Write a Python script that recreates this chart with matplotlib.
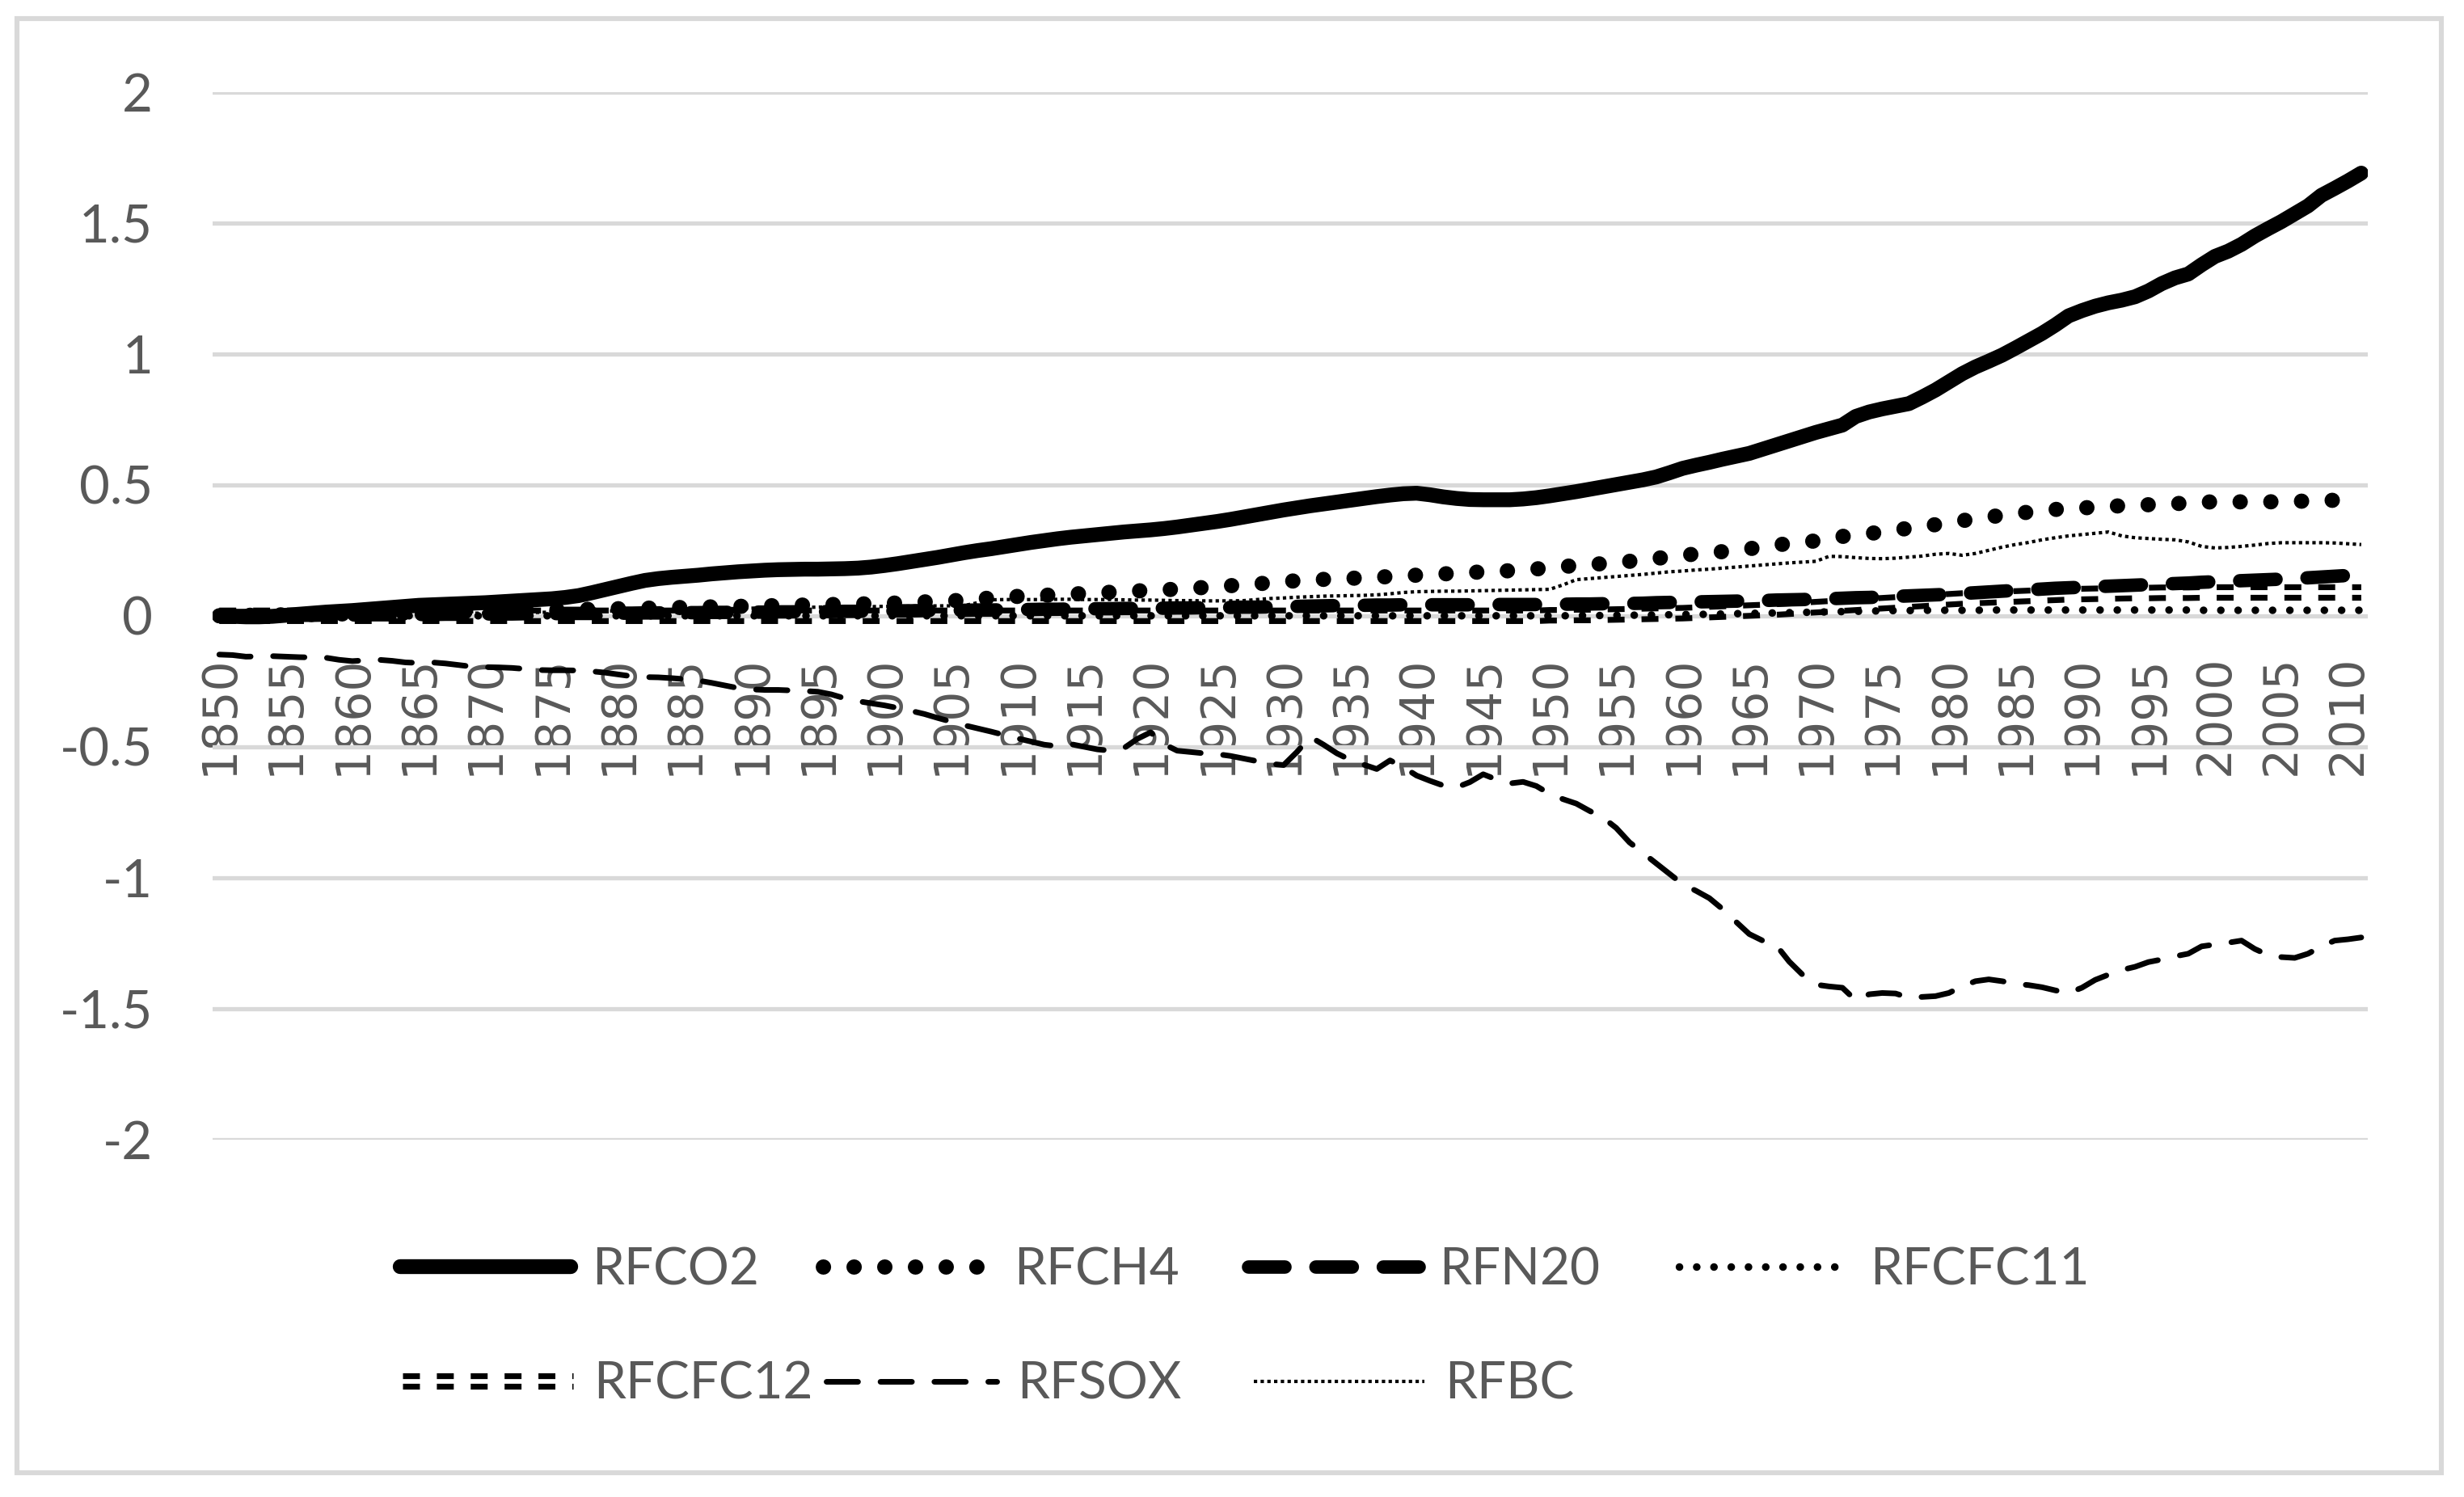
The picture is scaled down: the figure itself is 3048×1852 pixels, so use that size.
import matplotlib
matplotlib.use("Agg")
import matplotlib.pyplot as plt
import matplotlib.patheffects as pe
from matplotlib.lines import Line2D
from matplotlib.patches import Rectangle

years = list(range(1850, 2012))
tick_years = list(range(1850, 2011, 5))
y_ticks = [2, 1.5, 1, 0.5, 0, -0.5, -1, -1.5, -2]
y_labels = ["2", "1.5", "1", "0.5", "0", "-0.5", "-1", "-1.5", "-2"]

rf_co2 = [
    0.000, -0.002, -0.004, -0.004, -0.002, 0.002, 0.006, 0.010, 0.014, 0.017,
    0.020, 0.024, 0.028, 0.032, 0.036, 0.040, 0.042, 0.044, 0.046, 0.048,
    0.050, 0.053, 0.056, 0.059, 0.062, 0.065, 0.070, 0.077, 0.088, 0.100,
    0.112, 0.124, 0.135, 0.142, 0.147, 0.151, 0.155, 0.160, 0.164, 0.168,
    0.171, 0.174, 0.176, 0.177, 0.178, 0.178, 0.179, 0.180, 0.182, 0.186,
    0.192, 0.199, 0.207, 0.215, 0.223, 0.232, 0.241, 0.249, 0.256, 0.264,
    0.272, 0.280, 0.287, 0.294, 0.300, 0.305, 0.310, 0.315, 0.320, 0.324,
    0.328, 0.333, 0.339, 0.346, 0.353, 0.360, 0.368, 0.377, 0.386, 0.395,
    0.404, 0.412, 0.420, 0.427, 0.434, 0.441, 0.448, 0.455, 0.461, 0.466,
    0.468, 0.462, 0.454, 0.448, 0.444, 0.443, 0.443, 0.443, 0.446, 0.451,
    0.458, 0.466, 0.474, 0.483, 0.492, 0.501, 0.510, 0.519, 0.530, 0.546,
    0.563, 0.575, 0.586, 0.598, 0.609, 0.620, 0.636, 0.652, 0.668, 0.684,
    0.700, 0.714, 0.728, 0.761, 0.778, 0.790, 0.800, 0.810, 0.835, 0.862,
    0.893, 0.924, 0.950, 0.972, 0.995, 1.022, 1.050, 1.078, 1.110, 1.145,
    1.165, 1.182, 1.195, 1.205, 1.218, 1.240, 1.268, 1.290, 1.305, 1.340,
    1.372, 1.392, 1.418, 1.450, 1.478, 1.505, 1.535, 1.565, 1.605, 1.632,
    1.660, 1.690,
]

rf_ch4 = [
    0.000, 0.001, 0.002, 0.002, 0.003, 0.004, 0.005, 0.005, 0.006, 0.007,
    0.008, 0.009, 0.010, 0.010, 0.011, 0.012, 0.013, 0.014, 0.015, 0.016,
    0.017, 0.018, 0.019, 0.020, 0.021, 0.022, 0.023, 0.024, 0.025, 0.026,
    0.027, 0.028, 0.029, 0.030, 0.031, 0.032, 0.033, 0.034, 0.035, 0.036,
    0.037, 0.038, 0.039, 0.040, 0.041, 0.042, 0.043, 0.044, 0.045, 0.046,
    0.047, 0.049, 0.051, 0.053, 0.055, 0.057, 0.060, 0.064, 0.068, 0.072,
    0.074, 0.076, 0.078, 0.081, 0.083, 0.085, 0.087, 0.090, 0.093, 0.095,
    0.097, 0.099, 0.102, 0.105, 0.108, 0.111, 0.115, 0.118, 0.122, 0.126,
    0.130, 0.134, 0.137, 0.139, 0.141, 0.143, 0.145, 0.147, 0.150, 0.153,
    0.155, 0.157, 0.160, 0.162, 0.165, 0.168, 0.170, 0.172, 0.175, 0.179,
    0.183, 0.188, 0.192, 0.196, 0.199, 0.203, 0.208, 0.213, 0.219, 0.225,
    0.231, 0.236, 0.241, 0.245, 0.250, 0.256, 0.263, 0.270, 0.276, 0.281,
    0.286, 0.295, 0.303, 0.309, 0.314, 0.320, 0.328, 0.334, 0.341, 0.348,
    0.355, 0.363, 0.371, 0.378, 0.383, 0.389, 0.396, 0.401, 0.406, 0.409,
    0.412, 0.414, 0.418, 0.420, 0.422, 0.424, 0.426, 0.428, 0.431, 0.434,
    0.435, 0.435, 0.435, 0.435, 0.435, 0.436, 0.437, 0.438, 0.440, 0.441,
    0.443, 0.444,
]

rf_n2o = [
    0.000, 0.000, 0.001, 0.001, 0.001, 0.002, 0.002, 0.002, 0.003, 0.003,
    0.003, 0.004, 0.004, 0.004, 0.005, 0.005, 0.005, 0.006, 0.006, 0.006,
    0.007, 0.007, 0.007, 0.008, 0.008, 0.008, 0.009, 0.009, 0.009, 0.010,
    0.010, 0.010, 0.011, 0.011, 0.012, 0.012, 0.012, 0.013, 0.013, 0.014,
    0.014, 0.014, 0.015, 0.015, 0.016, 0.016, 0.016, 0.017, 0.017, 0.018,
    0.018, 0.019, 0.019, 0.020, 0.020, 0.021, 0.021, 0.022, 0.022, 0.023,
    0.024, 0.024, 0.025, 0.025, 0.026, 0.026, 0.027, 0.027, 0.028, 0.028,
    0.029, 0.029, 0.030, 0.030, 0.031, 0.031, 0.032, 0.033, 0.033, 0.034,
    0.035, 0.036, 0.037, 0.038, 0.039, 0.040, 0.040, 0.041, 0.041, 0.042,
    0.042, 0.042, 0.042, 0.042, 0.042, 0.042, 0.043, 0.043, 0.043, 0.043,
    0.044, 0.044, 0.045, 0.045, 0.046, 0.047, 0.047, 0.048, 0.050, 0.051,
    0.052, 0.053, 0.054, 0.055, 0.056, 0.057, 0.058, 0.060, 0.061, 0.062,
    0.064, 0.065, 0.067, 0.069, 0.070, 0.072, 0.074, 0.076, 0.078, 0.080,
    0.082, 0.085, 0.088, 0.091, 0.094, 0.097, 0.099, 0.102, 0.105, 0.107,
    0.109, 0.111, 0.113, 0.115, 0.117, 0.119, 0.121, 0.123, 0.125, 0.128,
    0.130, 0.132, 0.134, 0.136, 0.138, 0.140, 0.142, 0.145, 0.148, 0.151,
    0.154, 0.157,
]

rf_cfc11 = [
    0.000, 0.000, 0.000, 0.000, 0.000, 0.000, 0.000, 0.000, 0.000, 0.000,
    0.000, 0.000, 0.000, 0.000, 0.000, 0.000, 0.000, 0.000, 0.000, 0.000,
    0.000, 0.000, 0.000, 0.000, 0.000, 0.000, 0.000, 0.000, 0.000, 0.000,
    0.000, 0.000, 0.000, 0.000, 0.000, 0.000, 0.000, 0.000, 0.000, 0.000,
    0.000, 0.000, 0.000, 0.000, 0.000, 0.000, 0.000, 0.000, 0.000, 0.000,
    0.000, 0.000, 0.000, 0.000, 0.000, 0.000, 0.000, 0.000, 0.000, 0.000,
    0.000, 0.000, 0.000, 0.000, 0.000, 0.000, 0.000, 0.000, 0.000, 0.000,
    0.000, 0.000, 0.000, 0.000, 0.000, 0.000, 0.000, 0.000, 0.000, 0.000,
    0.000, 0.000, 0.000, 0.000, 0.000, 0.000, 0.000, 0.000, 0.000, 0.000,
    0.000, 0.000, 0.000, 0.000, 0.000, 0.000, 0.000, 0.000, 0.000, 0.000,
    0.000, 0.000, 0.001, 0.001, 0.001, 0.002, 0.002, 0.003, 0.003, 0.004,
    0.005, 0.005, 0.006, 0.007, 0.008, 0.009, 0.010, 0.011, 0.012, 0.013,
    0.014, 0.015, 0.016, 0.017, 0.018, 0.019, 0.020, 0.020, 0.021, 0.021,
    0.021, 0.021, 0.021, 0.022, 0.022, 0.022, 0.022, 0.022, 0.022, 0.022,
    0.022, 0.022, 0.022, 0.022, 0.022, 0.022, 0.022, 0.022, 0.022, 0.021,
    0.021, 0.021, 0.021, 0.021, 0.021, 0.021, 0.021, 0.021, 0.021, 0.021,
    0.021, 0.021,
]

rf_cfc12 = [
    0.000, 0.000, 0.000, 0.000, 0.000, 0.000, 0.000, 0.000, 0.000, 0.000,
    0.000, 0.000, 0.000, 0.000, 0.000, 0.000, 0.000, 0.000, 0.000, 0.000,
    0.000, 0.000, 0.000, 0.000, 0.000, 0.000, 0.000, 0.000, 0.000, 0.000,
    0.000, 0.000, 0.000, 0.000, 0.000, 0.000, 0.000, 0.000, 0.000, 0.000,
    0.000, 0.000, 0.000, 0.000, 0.000, 0.000, 0.000, 0.000, 0.000, 0.000,
    0.000, 0.000, 0.000, 0.000, 0.000, 0.000, 0.000, 0.000, 0.000, 0.000,
    0.000, 0.000, 0.000, 0.000, 0.000, 0.000, 0.000, 0.000, 0.000, 0.000,
    0.000, 0.000, 0.000, 0.000, 0.000, 0.000, 0.000, 0.000, 0.000, 0.000,
    0.000, 0.000, 0.000, 0.000, 0.000, 0.000, 0.000, 0.000, 0.000, 0.000,
    0.000, 0.000, 0.000, 0.000, 0.000, 0.000, 0.000, 0.000, 0.000, 0.000,
    0.002, 0.002, 0.003, 0.003, 0.004, 0.005, 0.006, 0.007, 0.008, 0.009,
    0.010, 0.012, 0.014, 0.016, 0.018, 0.020, 0.022, 0.024, 0.027, 0.030,
    0.033, 0.036, 0.039, 0.042, 0.045, 0.048, 0.051, 0.054, 0.057, 0.060,
    0.063, 0.066, 0.068, 0.070, 0.072, 0.074, 0.076, 0.078, 0.080, 0.082,
    0.083, 0.084, 0.085, 0.086, 0.087, 0.087, 0.088, 0.088, 0.088, 0.089,
    0.089, 0.089, 0.089, 0.089, 0.089, 0.089, 0.089, 0.089, 0.089, 0.089,
    0.089, 0.089,
]

rf_sox = [
    -0.148, -0.150, -0.156, -0.155, -0.154, -0.156, -0.158, -0.159, -0.160, -0.168,
    -0.173, -0.170, -0.168, -0.172, -0.178, -0.180, -0.178, -0.182, -0.188, -0.194,
    -0.196, -0.197, -0.199, -0.203, -0.207, -0.208, -0.208, -0.209, -0.212, -0.217,
    -0.224, -0.231, -0.234, -0.235, -0.238, -0.242, -0.247, -0.256, -0.266, -0.276,
    -0.281, -0.283, -0.283, -0.285, -0.287, -0.290, -0.300, -0.315, -0.326, -0.334,
    -0.342, -0.352, -0.363, -0.375, -0.390, -0.404, -0.418, -0.430, -0.442, -0.455,
    -0.468, -0.480, -0.492, -0.498, -0.490, -0.500, -0.510, -0.515, -0.505, -0.470,
    -0.445, -0.490, -0.515, -0.520, -0.525, -0.528, -0.535, -0.545, -0.555, -0.565,
    -0.570, -0.520, -0.462, -0.492, -0.525, -0.550, -0.568, -0.585, -0.552, -0.578,
    -0.610, -0.630, -0.648, -0.655, -0.635, -0.605, -0.625, -0.640, -0.634, -0.650,
    -0.680, -0.700, -0.717, -0.745, -0.770, -0.810, -0.865, -0.905, -0.945, -0.985,
    -1.025, -1.050, -1.078, -1.120, -1.168, -1.215, -1.240, -1.256, -1.320, -1.370,
    -1.408, -1.415, -1.420, -1.468, -1.445, -1.440, -1.442, -1.458, -1.455, -1.452,
    -1.440, -1.415, -1.395, -1.388, -1.395, -1.405, -1.410, -1.418, -1.430, -1.440,
    -1.420, -1.390, -1.370, -1.352, -1.340, -1.322, -1.312, -1.300, -1.290, -1.262,
    -1.255, -1.248, -1.240, -1.272, -1.295, -1.303, -1.306, -1.290, -1.262, -1.240,
    -1.235, -1.228,
]

rf_bc = [
    0.000, 0.001, 0.001, 0.002, 0.002, 0.003, 0.003, 0.004, 0.004, 0.005,
    0.005, 0.006, 0.006, 0.007, 0.007, 0.008, 0.008, 0.009, 0.009, 0.010,
    0.010, 0.011, 0.012, 0.012, 0.013, 0.014, 0.015, 0.016, 0.017, 0.018,
    0.019, 0.020, 0.021, 0.022, 0.023, 0.024, 0.025, 0.026, 0.027, 0.028,
    0.029, 0.030, 0.031, 0.032, 0.032, 0.033, 0.034, 0.034, 0.035, 0.035,
    0.036, 0.036, 0.037, 0.037, 0.038, 0.038, 0.039, 0.050, 0.061, 0.062,
    0.062, 0.062, 0.062, 0.063, 0.063, 0.062, 0.062, 0.062, 0.061, 0.060,
    0.060, 0.059, 0.058, 0.058, 0.057, 0.057, 0.057, 0.058, 0.062, 0.066,
    0.068, 0.071, 0.073, 0.075, 0.076, 0.077, 0.078, 0.080, 0.084, 0.089,
    0.092, 0.093, 0.094, 0.094, 0.095, 0.096, 0.097, 0.098, 0.099, 0.100,
    0.101, 0.118, 0.138, 0.142, 0.146, 0.150, 0.154, 0.158, 0.163, 0.168,
    0.171, 0.175, 0.178, 0.182, 0.186, 0.190, 0.194, 0.198, 0.202, 0.205,
    0.208, 0.227, 0.226, 0.222, 0.219, 0.218, 0.220, 0.224, 0.228, 0.235,
    0.238, 0.231, 0.238, 0.250, 0.262, 0.272, 0.280, 0.290, 0.298, 0.305,
    0.310, 0.315, 0.320, 0.305, 0.298, 0.295, 0.292, 0.290, 0.282, 0.265,
    0.259, 0.261, 0.265, 0.270, 0.276, 0.279, 0.279, 0.279, 0.279, 0.278,
    0.275, 0.272,
]

double_line = [pe.Stroke(offset=(0, 2.35)), pe.Stroke(offset=(0, -2.35))]

styles = {
    "RFCO2": dict(lw=6.6, ls="-", solid_capstyle="round", solid_joinstyle="round"),
    "RFCH4": dict(lw=6.8, ls=(0, (0.01, 2.0)), dash_capstyle="round"),
    "RFN20": dict(lw=6.0, ls=(0, (2.7, 2.3)), dash_capstyle="round", dash_joinstyle="round"),
    "RFCFC11": dict(lw=3.4, ls=(0, (0.01, 2.25)), dash_capstyle="round"),
    "RFCFC12": dict(lw=2.6, ls=(0, (2.9, 2.9)), dash_capstyle="butt", path_effects=double_line),
    "RFSOX": dict(lw=2.5, ls=(0, (5.6, 4.0)), dash_capstyle="round", dash_joinstyle="round"),
    "RFBC": dict(lw=1.5, ls=(0, (1, 1)), dash_capstyle="butt"),
}

series = [
    ("RFCO2", rf_co2),
    ("RFCH4", rf_ch4),
    ("RFN20", rf_n2o),
    ("RFCFC11", rf_cfc11),
    ("RFCFC12", rf_cfc12),
    ("RFSOX", rf_sox),
    ("RFBC", rf_bc),
]

fig = plt.figure(figsize=(15.24, 9.26), dpi=200)
ax = fig.add_axes([0.0863, 0.2387, 0.961 - 0.0863, 0.9386 - 0.2387])

for name, vals in series:
    ax.plot(years, vals, color="black", label=name, **styles[name])

# spine position first: moving it resets the tick label settings
for s in ax.spines.values():
    s.set_visible(False)
ax.spines["bottom"].set_position(("data", 0))

ax.set_xlim(1849.5, 2011.5)
ax.set_ylim(-2, 2)
ax.set_yticks(y_ticks)
ax.set_yticklabels(y_labels, fontfamily="Lato", fontsize=23.5, color="#595959")
ax.set_xticks(tick_years)
ax.set_xticklabels([str(y) for y in tick_years], rotation=90, fontfamily="DejaVu Sans",
                   fontsize=21, color="#595959")
ax.tick_params(axis="x", length=0, pad=17.6)
ax.tick_params(axis="y", length=0, pad=26.6)
ax.yaxis.grid(True, color="#d9d9d9", lw=1.9)
ax.xaxis.grid(False)
ax.set_axisbelow(True)

# legend entries placed one by one, like the excel layout
legend_pos = {
    "RFCO2": (0.1625, 0.1517),
    "RFCH4": (0.3340, 0.1517),
    "RFN20": (0.5066, 0.1517),
    "RFCFC11": (0.6814, 0.1517),
    "RFCFC12": (0.1634, 0.0751),
    "RFSOX": (0.3353, 0.0751),
    "RFBC": (0.5089, 0.0751),
}
for name, _ in series:
    h = Line2D([], [], color="black", **styles[name])
    fig.legend(handles=[h], labels=[name], loc="center left", bbox_to_anchor=legend_pos[name],
               frameon=False, borderpad=0, borderaxespad=0, handlelength=3.3,
               handletextpad=0.4, prop=dict(family="Lato", size=23), labelcolor="#595959")

fig.add_artist(Rectangle((0.0069, 0.0162), 0.9839, 0.9714, transform=fig.transFigure,
                         fill=False, ec="#d9d9d9", lw=2.2))

fig.savefig("out.png", dpi=200)
